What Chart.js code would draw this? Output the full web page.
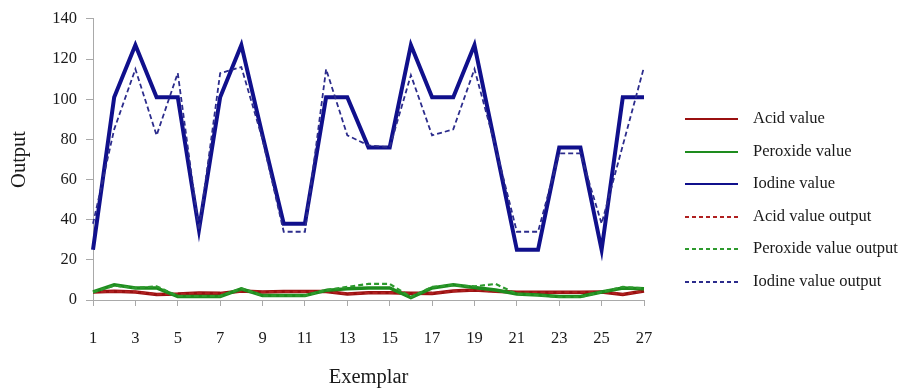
<!DOCTYPE html>
<html>
<head>
<meta charset="utf-8">
<script src="https://cdn.jsdelivr.net/npm/chart.js@4/dist/chart.umd.min.js"></script>
<style>
  html, body { margin: 0; padding: 0; background: #ffffff; }
  #wrap { width: 900px; height: 389px; position: relative; }
</style>
</head>
<body>
<div id="wrap"><canvas id="chart" width="900" height="389"></canvas></div>
<script>
// Exemplar numbers 1..27
const exemplars = Array.from({ length: 27 }, (_, i) => String(i + 1));

// Measured values
const acidValue     = [4, 4.3, 4, 2.8, 3, 3.5, 3.3, 4.5, 4, 4.2, 4.2, 4.2, 3, 3.6, 3.6, 3.4, 3.3, 4.5, 5, 4.3, 3.8, 3.8, 3.8, 3.8, 4, 2.8, 4.5];
const peroxideValue = [4, 7.6, 6, 6, 1.8, 1.8, 1.8, 5.6, 2.2, 2.2, 2.2, 4.8, 5.6, 6, 6, 1.2, 6, 7.6, 6.2, 5, 3, 2.5, 1.8, 1.8, 4, 6, 5.6];
const iodineValue   = [25, 101, 127, 101, 101, 35, 101, 127, 82, 38, 38, 101, 101, 76, 76, 127, 101, 101, 127, 76, 25, 25, 76, 76, 25, 101, 101];

// Network outputs
const acidOutput     = [4, 4.2, 4.1, 2.9, 3, 3.4, 3.3, 4.4, 4, 4.1, 4.1, 4.3, 3.1, 3.5, 3.5, 3.3, 3.4, 4.4, 4.9, 4.2, 3.8, 3.7, 3.8, 3.9, 4, 2.9, 4.4];
const peroxideOutput = [4, 7.2, 6, 6.8, 2, 2, 2, 5.8, 2.2, 2.2, 2.2, 5, 6.5, 8, 8, 1.5, 6.5, 7.4, 6.8, 8, 3, 2.5, 1.5, 1.5, 4, 6.5, 5.8];
const iodineOutput   = [38, 85, 115, 82, 113, 35, 113, 116, 80, 34, 34, 115, 82, 77, 76, 112, 82, 85, 115, 76, 34, 34, 73, 73, 38, 77, 116];

// Y axis ticks
const yTicks = [0, 20, 40, 60, 80, 100, 120, 140];

const serif = "'Liberation Serif', 'Times New Roman', serif";
const axisGrey = '#a9a9a9';

// Legend on the right, drawn from each dataset's own style
const sideLegend = {
  id: 'sideLegend',
  afterDraw(chart) {
    const ctx = chart.ctx;
    const rows = [119, 152, 184, 217, 249, 282];
    ctx.save();
    chart.data.datasets.forEach((ds, i) => {
      const y = rows[i];
      ctx.beginPath();
      ctx.strokeStyle = ds.borderColor;
      ctx.lineWidth = 2;
      ctx.setLineDash(ds.borderDash && ds.borderDash.length ? [4, 3] : []);
      ctx.moveTo(685, y);
      ctx.lineTo(738, y);
      ctx.stroke();
      ctx.setLineDash([]);
      ctx.fillStyle = '#1a1a1a';
      ctx.font = '16.5px ' + serif;
      ctx.textBaseline = 'middle';
      ctx.textAlign = 'left';
      ctx.fillText(ds.label, 753, y);
    });
    ctx.restore();
  }
};

function line(label, data, color, width, dashed, order) {
  return {
    label, data,
    borderColor: color,
    backgroundColor: color,
    borderWidth: width,
    borderDash: dashed ? [5, 3] : [],
    borderJoinStyle: 'miter',
    pointRadius: 0,
    tension: 0,
    fill: false,
    order
  };
}

new Chart(document.getElementById('chart'), {
  type: 'line',
  data: {
    labels: exemplars,
    datasets: [
      line('Acid value', acidValue, '#9a1010', 3.5, false, 5),
      line('Peroxide value', peroxideValue, '#1e8c1e', 3.5, false, 3),
      line('Iodine value', iodineValue, '#10108c', 4, false, 1),
      line('Acid value output', acidOutput, '#b02020', 2, true, 4),
      line('Peroxide value output', peroxideOutput, '#2d9a2d', 2.2, true, 2),
      line('Iodine value output', iodineOutput, '#2c2c8c', 1.8, true, 0)
    ]
  },
  options: {
    responsive: false,
    animation: false,
    devicePixelRatio: 1,
    layout: { padding: { left: 0, right: 256, top: 17, bottom: 0 } },
    plugins: {
      legend: { display: false },
      tooltip: { enabled: false }
    },
    scales: {
      x: {
        type: 'category',
        offset: false,
        afterFit(scale) { scale.height = 89; },
        border: { color: axisGrey, width: 1 },
        grid: {
          display: true,
          drawOnChartArea: false,
          drawTicks: true,
          tickLength: 6,
          color: axisGrey
        },
        ticks: {
          autoSkip: false,
          maxRotation: 0,
          padding: 23,
          color: '#1a1a1a',
          font: { family: serif, size: 16.5 },
          callback(value, index) {
            return index % 2 === 0 ? exemplars[index] : null;
          }
        },
        title: {
          display: true,
          text: 'Exemplar',
          color: '#1a1a1a',
          font: { family: serif, size: 20.5 },
          padding: { top: 0, bottom: -1 }
        }
      },
      y: {
        min: 0,
        max: 140,
        afterFit(scale) { scale.width = 93; },
        afterBuildTicks(scale) { scale.ticks = yTicks.map(v => ({ value: v })); },
        border: { color: axisGrey, width: 1 },
        grid: {
          display: true,
          drawOnChartArea: false,
          drawTicks: true,
          tickLength: 7,
          color: axisGrey
        },
        ticks: {
          padding: 9,
          color: '#1a1a1a',
          font: { family: serif, size: 16.5 }
        },
        title: {
          display: true,
          text: 'Output',
          color: '#1a1a1a',
          font: { family: serif, size: 20.5 },
          padding: { top: 7, bottom: 0 }
        }
      }
    }
  },
  plugins: [sideLegend]
});
</script>
</body>
</html>
